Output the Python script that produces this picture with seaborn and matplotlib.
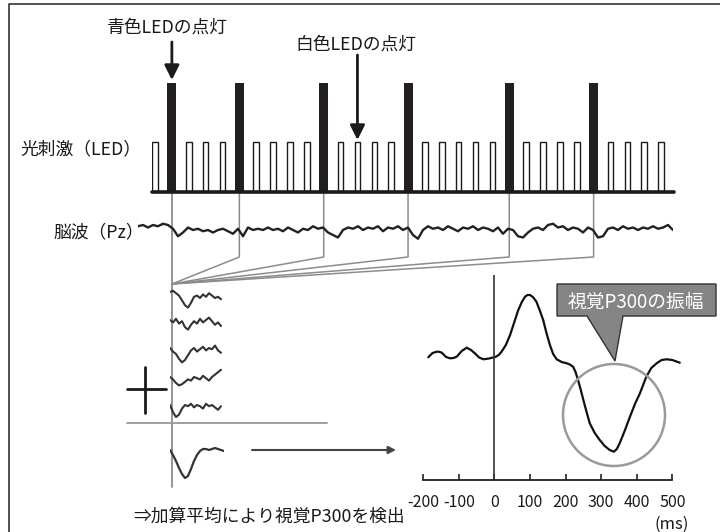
import numpy as np
import matplotlib
matplotlib.use("Agg")
import matplotlib.pyplot as plt
import seaborn as sns
from matplotlib.patches import Polygon, Circle
from matplotlib.transforms import blended_transform_factory

# ---------------- data ----------------
# stimulus sequence: B = blue LED (target), W = white LED (non-target)
stim_sequence = list("WBWWWBWWWWBWWWWBWWWWWBWWWWBWWWW")
stim_height = {"B": 1.0, "W": 0.46}
white_arrow_slot = 12

# continuous EEG (Pz), positive = downward deflection
eeg_uv = [0, -1, 1, -1, 0, -2, -1, 2, 8, 5,
          1, 3, 2, 4, 3, 5, 3, 2, 4, 6,
          2, 8, 1, 3, 2, 3, 1, 3, 2, 4,
          1, 3, 5, 2, 3, 0, 2, 1, 5, 7,
          9, 3, 1, 2, 0, 3, 1, 2, 0, 4,
          1, 2, 0, 3, 1, 7, 10, 3, 0, 2,
          1, 3, 0, 2, 4, 1, 2, 0, 3, 1,
          2, 4, 1, 6, 2, 3, 8, 9, 5, 2,
          1, 3, -1, -2, 1, 0, 3, 1, 2, 5,
          1, 3, 9, 8, 2, 1, 3, 0, 2, 1,
          3, 1, 2, 0, 2, 1, -1, 3]

# single-trial epochs after each blue flash
epoch_1 = [0, -1, 1, 3, 7, 11, 13, 9, 4, 3, 5, 2, 4, 1, 3, 5, 4, 6]
epoch_2 = [0, 2, -1, 3, 1, 6, 8, 4, 1, 3, -1, 2, 0, -2, 1, 4, 2, 5]
epoch_3 = [0, 3, 5, 9, 12, 10, 6, 2, 0, 3, 1, -1, 2, 0, 1, -2, 2, 4]
epoch_4 = [0, 2, 5, 7, 6, 4, 2, 3, 0, 1, 2, -1, 1, 3, 0, -2, -4, -6]
epoch_5 = [0, 6, 10, 8, 3, 0, 1, -1, 2, 0, 1, 3, -1, 1, 0, 2, 4, 1]
epochs = [epoch_1, epoch_2, epoch_3, epoch_4, epoch_5]
average_trace = [0, 5, 11, 18, 24, 28, 26, 19, 11, 5, 1, -1, -1, 0, -1, -2, -1, 0, 1]

# averaged ERP (negative up)
erp_ms = [-186, -174, -162, -155, -148, -136, -125, -115, -106, -92, -78, -66,
          -55, -43, -31, -15, 4, 12, 20, 32, 44, 55, 67, 77, 86, 93, 100, 108,
          118, 127, 137, 147, 156, 165, 175, 189, 203, 212, 221, 228, 235, 242,
          250, 259, 268, 282, 296, 310, 324, 336, 344, 352, 366, 381, 395, 409,
          427, 441, 456, 470, 484, 500, 521]
erp_uv = [0.13, -0.3, -0.43, -0.42, -0.33, 0.1, 0.23, 0.2, 0.07, -0.5, -0.83,
          -0.6, -0.27, 0.15, 0.33, 0.25, 0.07, -0.1, -0.43, -1.1, -2.1, -3.3,
          -4.6, -5.4, -5.93, -6.1, -6.1, -5.9, -5.43, -4.6, -3.6, -2.2, -1.1,
          -0.2, 0.33, 0.6, 0.73, 0.85, 1.07, 1.6, 2.4, 3.3, 4.4, 5.6, 6.73, 7.7,
          8.4, 9.0, 9.4, 9.57, 9.3, 8.73, 7.5, 6.07, 4.8, 3.73, 2.07, 1.2, 0.73,
          0.4, 0.33, 0.4, 0.67]
erp_ticks = [-200, -100, 0, 100, 200, 300, 400, 500]
erp_tick_labels = [str(t) for t in erp_ticks]

label_blue = "青色LEDの点灯"
label_white = "白色LEDの点灯"
label_stim = "光刺激（LED）"
label_eeg = "脳波（Pz）"
label_bottom = "⇒加算平均により視覚P300を検出"
label_callout = "視覚P300の振幅"
label_unit = "(ms)"

# ---------------- style ----------------
sns.set_style("white")
plt.rcParams['font.family'] = ['Noto Sans CJK JP', 'DejaVu Sans']

W, H = 720, 532
fig = plt.figure(figsize=(7.2, 5.32), dpi=100)
fig.patch.set_facecolor("white")


def px_axes(x0, y0, x1, y1):
    ax = fig.add_axes([x0 / W, 1 - y1 / H, (x1 - x0) / W, (y1 - y0) / H])
    ax.patch.set_alpha(0)
    return ax


FS = 12.8
INK = "#1a1a1a"
GRAY = "#8c8c8c"

# background / annotation layer in pixel units
bg = px_axes(0, 0, W, H)
bg.set_xlim(0, W)
bg.set_ylim(H, 0)
bg.set_axis_off()
bg.plot([9, 9, W], [H, 4, 4], color="#333333", lw=1.2, solid_capstyle="butt")

# ---------------- stimulus bars ----------------
slot_px = 16.87
slot0_px = 155
ax_s = px_axes(152, 83, 674, 192)
ax_s.set_xlim((152 - slot0_px) / slot_px, (674 - slot0_px) / slot_px)
ax_s.set_ylim(0, 1)
ax_s.set_axis_off()
black_slots = [i for i, s in enumerate(stim_sequence) if s == "B"]
white_slots = [i for i, s in enumerate(stim_sequence) if s == "W"]
ax_s.bar(white_slots, [stim_height["W"]] * len(white_slots), width=0.33,
         facecolor="white", edgecolor=INK, linewidth=1.0, zorder=2)
ax_s.bar(black_slots, [stim_height["B"]] * len(black_slots), width=0.53,
         color="#231f20", edgecolor="none", zorder=3)
ax_s.axhline(0, color=INK, lw=2.6, clip_on=False, zorder=4)

# connecting lines from blue flashes
trans = blended_transform_factory(ax_s.transData, bg.transData)
b0 = black_slots[0]
bg.plot([b0, b0], [192, 487], color=GRAY, lw=1.3, transform=trans)
for b in black_slots[1:]:
    bg.plot([b, b, b0], [192, 257, 284], color=GRAY, lw=1.1, transform=trans)

# label arrows
bg.annotate("", xy=(b0, 80), xytext=(b0, 42), xycoords=trans, textcoords=trans,
            arrowprops=dict(arrowstyle="-|>", color=INK, lw=2.0,
                            mutation_scale=22, shrinkA=0, shrinkB=0))
bg.annotate("", xy=(white_arrow_slot, 140), xytext=(white_arrow_slot, 55),
            xycoords=trans, textcoords=trans,
            arrowprops=dict(arrowstyle="-|>", color=INK, lw=2.0,
                            mutation_scale=22, shrinkA=0, shrinkB=0))

bg.text(107, 28, label_blue, ha="left", va="center", fontsize=FS, color=INK)
bg.text(295, 45, label_white, ha="left", va="center", fontsize=FS, color=INK)
bg.text(20, 149, label_stim, ha="left", va="center", fontsize=FS, color=INK)
bg.text(53, 232, label_eeg, ha="left", va="center", fontsize=FS, color=INK)
bg.text(133, 517, label_bottom, ha="left", va="center", fontsize=FS, color=INK)

# ---------------- continuous EEG ----------------
ax_eeg = px_axes(138, 205, 673, 245)
sns.lineplot(x=np.arange(len(eeg_uv)), y=eeg_uv, ax=ax_eeg, color="#222222",
             lw=1.7, sort=False)
ax_eeg.set_xlim(0, len(eeg_uv) - 1)
ax_eeg.set_ylim(15, -17)
ax_eeg.set_axis_off()

# ---------------- epochs & average ----------------
ax_ep = px_axes(170, 280, 224, 490)
row_base = [12, 40, 68, 97, 125]
for base, ep in zip(row_base, epochs):
    sns.lineplot(x=np.arange(len(ep)), y=base + 1.2 * np.array(ep), ax=ax_ep,
                 color="#333333", lw=1.5, sort=False)
sns.lineplot(x=np.arange(len(average_trace)), y=170 + np.array(average_trace),
             ax=ax_ep, color="#333333", lw=1.6, sort=False)
ax_ep.set_xlim(0, 18)
ax_ep.set_ylim(210, 0)
ax_ep.set_axis_off()

bg.plot([127, 327], [423, 423], color="#999999", lw=1.3)
bg.plot([145, 145], [367, 413], color=INK, lw=2.0)
bg.plot([127, 166], [389, 389], color=INK, lw=2.0)
bg.annotate("", xy=(396, 450), xytext=(252, 450),
            arrowprops=dict(arrowstyle="-|>", color="#444444", lw=1.5,
                            mutation_scale=11, shrinkA=0, shrinkB=0))

# ---------------- averaged ERP ----------------
ms0_px, ms_scale = 423.3, 249 / 700
ax_e = px_axes(ms0_px, 275, ms0_px + 730 * ms_scale, 480)
sns.lineplot(x=erp_ms, y=erp_uv, ax=ax_e, color="#111111", lw=1.6, sort=False)
ax_e.set_xlim(-200, 530)
ax_e.set_ylim(12.4, -8.1)
ax_e.axvline(0, color="#333333", lw=1.2)
for side in ["top", "right", "left"]:
    ax_e.spines[side].set_visible(False)
ax_e.spines["bottom"].set_bounds(-200, 500)
ax_e.spines["bottom"].set_color("#222222")
ax_e.spines["bottom"].set_linewidth(1.3)
ax_e.set_xticks(erp_ticks)
ax_e.set_xticklabels(erp_tick_labels)
ax_e.set_yticks([])
ax_e.tick_params(axis="x", bottom=True, direction="in", length=4, width=1.2,
                 color="#222222", labelsize=11.5, pad=10, labelcolor=INK)
ax_e.set_xlabel("")
ax_e.set_ylabel("")
ax_e.grid(False)

# ---------------- overlay: circle & callout ----------------
top = px_axes(0, 0, W, H)
top.set_xlim(0, W)
top.set_ylim(H, 0)
top.set_axis_off()
top.add_patch(Circle((614, 415), 51, fill=False, edgecolor="#9a9a9a", lw=1.8))
top.add_patch(Polygon([(557, 284), (716, 284), (716, 316), (623, 316),
                       (615, 361), (587, 316), (557, 316)], closed=True,
                      facecolor="#858585", edgecolor="#333333", lw=1.0))
top.text(636, 302, label_callout, ha="center", va="center", fontsize=13.5,
         color="white")
top.text(672, 524, label_unit, ha="center", va="center", fontsize=12, color=INK)

fig.savefig("out.png", dpi=100, facecolor="white")
